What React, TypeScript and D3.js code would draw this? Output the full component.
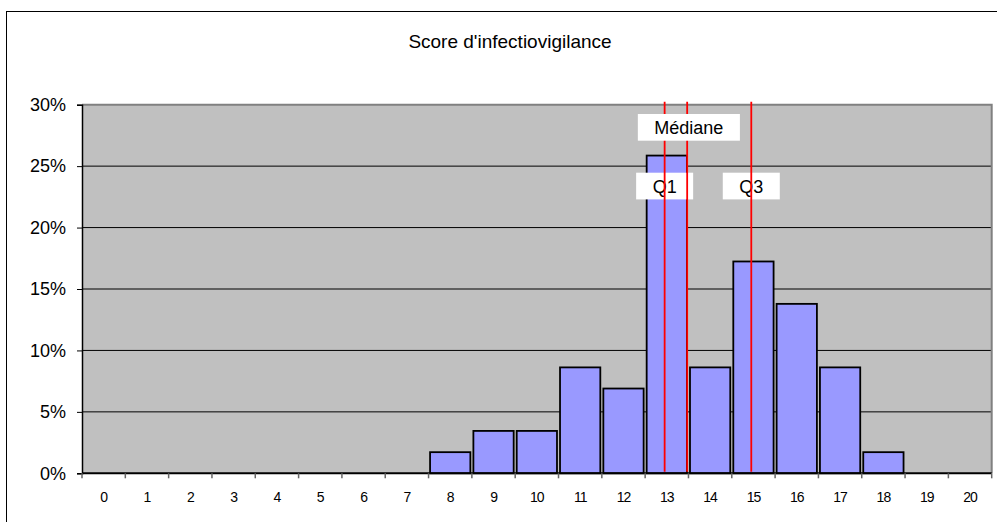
import React, { useEffect, useRef } from 'react';
import * as d3 from 'd3';

// categories (score) and share of respondents (%)
const scores = ['0', '1', '2', '3', '4', '5', '6', '7', '8', '9', '10', '11', '12', '13', '14', '15', '16', '17', '18', '19', '20'];
const percents = [0, 0, 0, 0, 0, 0, 0, 0, 1.72, 3.45, 3.45, 8.62, 6.9, 25.86, 8.62, 17.24, 13.79, 8.62, 1.72, 0, 0];
const yTicks = [0, 5, 10, 15, 20, 25, 30];

// quartile markers
const markerLabels = ['Q1', 'Médiane', 'Q3'];
const markerValues = [12.95, 13.47, 14.95];

const title = "Score d'infectiovigilance";

const App: React.FC = () => {
  const svgRef = useRef<SVGSVGElement>(null);
  const width = 997;
  const height = 522;

  useEffect(() => {
    if (!svgRef.current) return;
    const svg = d3.select(svgRef.current);
    svg.selectAll('*').remove();

    const font = 'Liberation Sans, Arial, sans-serif';
    const left = 82;
    const top = 104.7;
    const right = 991.7;
    const bottom = 473.3;

    // outer chart frame (runs off the window on right and bottom)
    svg.append('rect')
      .attr('x', 6.5).attr('y', 11.5)
      .attr('width', 1010).attr('height', 540)
      .attr('fill', 'white')
      .attr('stroke', 'black')
      .attr('stroke-width', 1);

    // Scales
    const xScale = d3.scaleBand()
      .domain(scores)
      .range([left, right])
      .paddingInner(0.07)
      .paddingOuter(0.035);

    const band = (right - left) / scores.length;
    const xLin = d3.scaleLinear()
      .domain([-0.5, scores.length - 0.5])
      .range([left, right]);

    const yScale = d3.scaleLinear()
      .domain([0, 30])
      .range([bottom, top]);

    // plot background
    svg.append('rect')
      .attr('x', left).attr('y', top)
      .attr('width', right - left).attr('height', bottom - top)
      .attr('fill', '#C0C0C0');

    // gridlines
    svg.append('g')
      .selectAll('line')
      .data(yTicks.filter(t => t > 0 && t < 30))
      .enter()
      .append('line')
      .attr('x1', left).attr('x2', right)
      .attr('y1', d => yScale(d)).attr('y2', d => yScale(d))
      .attr('stroke', '#000')
      .attr('stroke-width', 1);

    // plot border top/right
    svg.append('path')
      .attr('d', `M${left},${top}H${right}V${bottom}`)
      .attr('fill', 'none')
      .attr('stroke', '#808080')
      .attr('stroke-width', 2);

    // Bars
    svg.append('g')
      .selectAll('rect')
      .data(percents.map((p, i) => ({ s: scores[i], p })).filter(d => d.p > 0))
      .enter()
      .append('rect')
      .attr('x', d => (xScale(d.s) || 0))
      .attr('y', d => yScale(d.p))
      .attr('width', xScale.bandwidth())
      .attr('height', d => bottom - yScale(d.p))
      .attr('fill', '#9999FF')
      .attr('stroke', '#000')
      .attr('stroke-width', 1.8);

    // Y axis
    const yAxis = svg.append('g')
      .attr('transform', `translate(${left},0)`)
      .call(d3.axisLeft(yScale).tickValues(yTicks).tickSize(5).tickPadding(11).tickFormat(d => `${d}%`));
    yAxis.select('.domain').attr('stroke', '#000').attr('stroke-width', 1.5);
    yAxis.selectAll('.tick line').attr('stroke', '#000');
    yAxis.selectAll('text')
      .style('font-family', font)
      .style('font-size', '18px')
      .attr('fill', '#000');

    // X axis: ticks between categories
    svg.append('line')
      .attr('x1', left).attr('x2', right)
      .attr('y1', bottom).attr('y2', bottom)
      .attr('stroke', '#000')
      .attr('stroke-width', 2);

    svg.append('g')
      .selectAll('line')
      .data(d3.range(scores.length + 1))
      .enter()
      .append('line')
      .attr('x1', i => left + i * band).attr('x2', i => left + i * band)
      .attr('y1', bottom).attr('y2', bottom + 5)
      .attr('stroke', '#666')
      .attr('stroke-width', 1.5);

    svg.append('g')
      .selectAll('text')
      .data(scores)
      .enter()
      .append('text')
      .attr('x', d => (xScale(d) || 0) + xScale.bandwidth() / 2)
      .attr('y', bottom + 29)
      .attr('text-anchor', 'middle')
      .style('font-family', font)
      .style('font-size', '14px')
      .style('letter-spacing', '-1px')
      .text(d => d);

    // Label boxes + red marker lines
    const boxRow = (label: string) => (label === 'Médiane' ? top + 9.3 : top + 68);
    const boxH = 26.7;

    const drawBox = (i: number) => {
      const g = svg.append('g');
      const cx = xLin(markerValues[i]) + (markerLabels[i] === 'Médiane' ? 1.7 : 0);
      const y0 = boxRow(markerLabels[i]);
      const rect = g.append('rect').attr('fill', 'white');
      const txt = g.append('text')
        .attr('x', cx)
        .attr('y', y0 + 20)
        .attr('text-anchor', 'middle')
        .style('font-family', font)
        .style('font-size', '18px')
        .text(markerLabels[i]);
      const tw = (txt.node() as SVGTextElement).getComputedTextLength();
      rect.attr('x', cx - tw / 2 - 16.5).attr('y', y0)
        .attr('width', tw + 33).attr('height', boxH);
      txt.raise();
    };

    markerLabels.forEach((l, i) => { if (l !== 'Médiane') drawBox(i); });

    svg.append('g')
      .selectAll('line')
      .data(markerValues)
      .enter()
      .append('line')
      .attr('x1', d => xLin(d)).attr('x2', d => xLin(d))
      .attr('y1', top - 3).attr('y2', bottom - 1.6)
      .attr('stroke', '#FF0000')
      .attr('stroke-width', 1.8);

    markerLabels.forEach((l, i) => { if (l === 'Médiane') drawBox(i); });

    // Chart title
    svg.append('text')
      .attr('x', 510)
      .attr('y', 48)
      .attr('text-anchor', 'middle')
      .style('font-family', font)
      .style('font-size', '19px')
      .text(title);
  }, []);

  return (
    <svg
      ref={svgRef}
      width={width}
      height={height}
      style={{ position: 'absolute', left: 0, top: 0, background: 'white' }}
    />
  );
};

export default App;
